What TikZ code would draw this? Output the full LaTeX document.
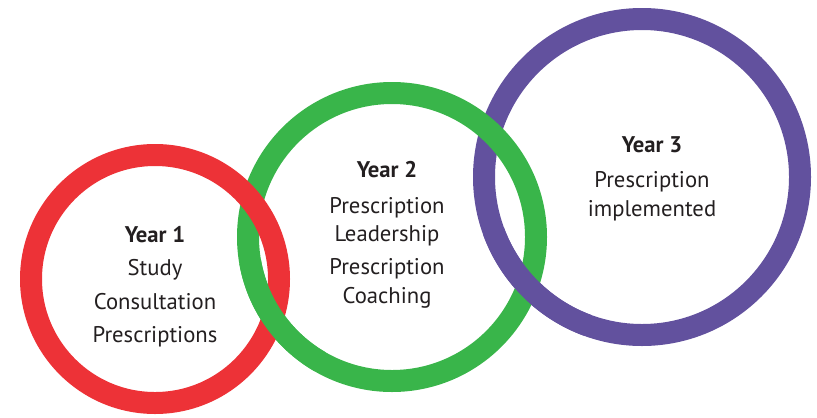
\documentclass[tikz,border=0pt]{standalone}
\usepackage{fontspec}
\setmainfont{PT Sans}
\usepackage{tikz}
\usetikzlibrary{positioning}
\definecolor{ink}{HTML}{231F20}
\definecolor{ringred}{HTML}{ED3237}
\definecolor{ringgreen}{HTML}{39B54A}
\definecolor{ringpurple}{HTML}{62519E}

\begin{document}
\begin{tikzpicture}[x=0.02cm,y=0.02cm,
    ring/.style={line width=0.44cm},
    yeartext/.style={text=ink,align=center,anchor=north,inner sep=0pt,
                     font=\fontsize{12.9}{16.4}\selectfont}]
  \useasboundingbox (0,0) rectangle (817,417);
  \coordinate (c1) at (155,138);
  \coordinate (c2) at (392,180);
  \coordinate (c3) at (642,240);

  % rings, linked like a chain
  \draw[ring,ringpurple] (c3) circle[radius=158];
  \draw[ring,ringgreen] (c2) circle[radius=144];
  \draw[ring,ringred] (c1) circle[radius=124];
  \draw[ring,ringgreen] (c2) ++(190:144) arc[start angle=190,end angle=240,radius=144];
  \draw[ring,ringpurple] (c3) ++(200:158) arc[start angle=200,end angle=250,radius=158];

  \node[yeartext] (year1) at (155,191)
    {\textbf{Year 1}\\[2.6pt] Study\\[2.6pt] Consultation\\[2.6pt] Prescriptions};
  \node[yeartext] (year2) at (387,256)
    {\textbf{Year 2}\\[3.8pt] Prescription\\ Leadership\\[2.1pt] Prescription\\ Coaching};
  \node[yeartext] (year3) at (652,281)
    {\textbf{Year 3}\\[3.8pt] Prescription\\ implemented};
\end{tikzpicture}
\end{document}
